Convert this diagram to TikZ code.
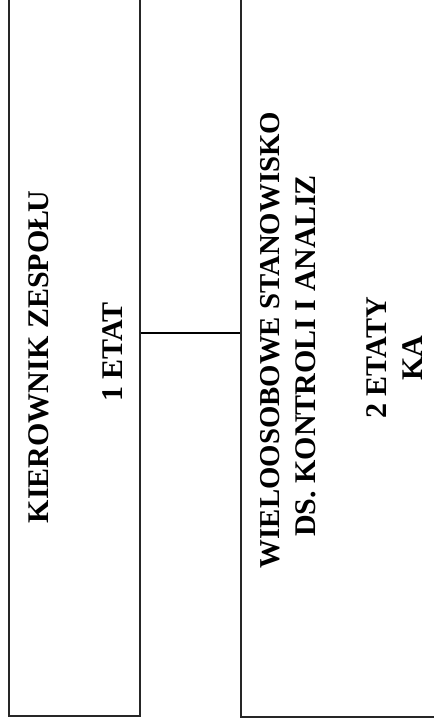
\documentclass[tikz,border=0pt]{standalone}
\usepackage{fontspec}
\setmainfont{Liberation Serif}
\begin{document}
\tikzset{every picture/.style={line width=0.75pt}}

\begin{tikzpicture}[x=0.75pt,y=0.75pt,yscale=-1,xscale=1,
  unitbox/.style={draw, rectangle, inner sep=0pt, line width=1.1pt, color=black!85},
  unittext/.style={font=\bfseries\fontsize{22.5}{27}\selectfont, rotate=90, inner sep=0.75pt}]
\useasboundingbox (0,0) rectangle (434,728);
\clip (0,0) rectangle (434,728);

%Shape: Rectangle [id:kier] 
\node [unitbox, minimum width=98.25pt, minimum height=548.25pt] (kier) at (74.5,350.5) {};
%Shape: Rectangle [id:wielo] 
\node [unitbox, minimum width=153pt, minimum height=549pt] (wielo) at (343,351) {};

%Straight Lines [id:link] 
\coordinate (lvl) at (0,333);
\draw [line width=1.1pt] (kier.east |- lvl) -- (wielo.west |- lvl) ;

% Text Node
\node [unittext] (kierA) at (39,357) {KIEROWNIK ZESPOŁ\kern-1.5pt U};
% Text Node
\node [unittext] (kierB) at (113,352) {1 ETAT};
% Text Node
\node [unittext, font=\bfseries\fontsize{21.6}{26}\selectfont] (wieloA) at (270,340) {WIELOOSOBOWE STANOWISKO};
% Text Node
\node [unittext] (wieloB) at (306,356) {DS. KONTROLI I ANALIZ};
% Text Node
\node [unittext] (wieloC) at (377,358) {2 ETATY};
% Text Node
\node [unittext] (wieloD) at (413,358) {KA};

\end{tikzpicture}
\end{document}
